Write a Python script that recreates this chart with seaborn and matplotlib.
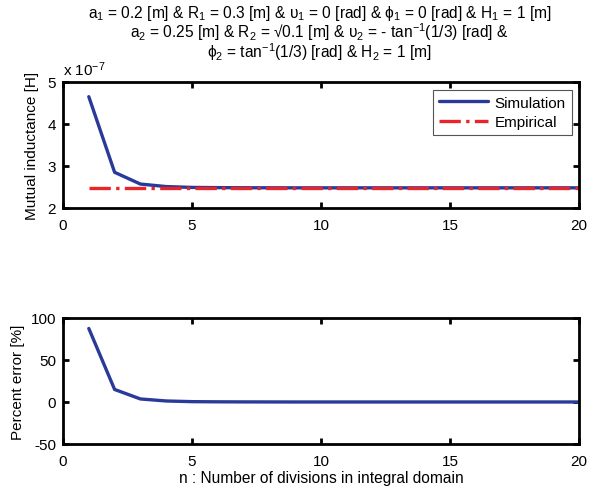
import numpy as np
import pandas as pd
import matplotlib
matplotlib.use("Agg")
import matplotlib.pyplot as plt
import seaborn as sns
from matplotlib.ticker import FuncFormatter

# ---- data ----
n_div = list(range(1, 21))
simulation = [4.65e-7, 2.85e-7, 2.57e-7, 2.51e-7, 2.49e-7, 2.485e-7, 2.482e-7, 2.481e-7,
              2.48e-7, 2.48e-7, 2.48e-7, 2.48e-7, 2.48e-7, 2.48e-7, 2.48e-7, 2.48e-7,
              2.48e-7, 2.48e-7, 2.48e-7, 2.48e-7]
empirical = [2.48e-7] * 20
percent_error = [87.5, 14.9, 3.6, 1.2, 0.4, 0.2, 0.1, 0.05, 0.0, 0.0, 0.0, 0.0, 0.0,
                 0.0, 0.0, 0.0, 0.0, 0.0, 0.0, 0.0]

title_lines = [
    r"a$_1$ = 0.2 [m] & R$_1$ = 0.3 [m] & $\upsilon_1$ = 0 [rad] & $\phi_1$ = 0 [rad] & H$_1$ = 1 [m]",
    r"a$_2$ = 0.25 [m] & R$_2$ = √0.1 [m] & $\upsilon_2$ = - tan$^{-1}$(1/3) [rad] &",
    r"$\phi_2$ = tan$^{-1}$(1/3) [rad] & H$_2$ = 1 [m]",
]

sns.set_style("ticks")
plt.rcParams['font.family'] = ['Liberation Sans', 'DejaVu Sans']
plt.rcParams['mathtext.fontset'] = 'custom'
plt.rcParams['mathtext.rm'] = 'Liberation Sans'
plt.rcParams['mathtext.it'] = 'Liberation Sans:italic'
plt.rcParams['mathtext.bf'] = 'Liberation Sans:bold'
plt.rcParams['mathtext.default'] = 'regular'
plt.rcParams['axes.unicode_minus'] = False
plt.rcParams['text.color'] = 'black'
plt.rcParams['axes.labelcolor'] = 'black'

BLUE = "#2a3a98"
RED = "#e8262a"

fig = plt.figure(figsize=(5.92, 4.89), dpi=100)
ax1 = fig.add_axes([0.1064, 0.5726, 0.872, 0.2577])
ax2 = fig.add_axes([0.1064, 0.0900, 0.872, 0.2577])

df1 = pd.DataFrame({"n": n_div, "Simulation": simulation, "Empirical": empirical})
sns.lineplot(data=df1, x="n", y="Simulation", ax=ax1, color=BLUE, lw=2.4, label="Simulation")
sns.lineplot(data=df1, x="n", y="Empirical", ax=ax1, color=RED, lw=2.4, linestyle="-.", label="Empirical")

df2 = pd.DataFrame({"n": n_div, "err": percent_error})
sns.lineplot(data=df2, x="n", y="err", ax=ax2, color=BLUE, lw=2.4)

ax1.set_xlim(0, 20)
ax1.set_ylim(2e-7, 5e-7)
ax1.set_yticks([2e-7, 3e-7, 4e-7, 5e-7])
ax1.yaxis.set_major_formatter(FuncFormatter(lambda v, p: f"{v/1e-7:.0f}"))
ax1.set_xticks([0, 5, 10, 15, 20])
ax1.set_xlabel("")
ax1.set_ylabel("Mutual inductance [H]", fontsize=11, labelpad=6)
ax1.text(0.0, 1.03, r"x 10$^{-7}$", transform=ax1.transAxes, fontsize=11, ha="left", va="bottom")

ax2.set_xlim(0, 20)
ax2.set_ylim(-50, 100)
ax2.set_yticks([-50, 0, 50, 100])
ax2.set_xticks([0, 5, 10, 15, 20])
ax2.set_xlabel("n : Number of divisions in integral domain", fontsize=11.2, labelpad=2)
ax2.set_ylabel("Percent error [%]", fontsize=11, labelpad=4)

for ax in (ax1, ax2):
    for s in ax.spines.values():
        s.set_visible(True)
        s.set_linewidth(2.0)
        s.set_color("black")
    ax.tick_params(direction="in", top=True, right=True, length=4, width=2,
                   labelsize=11, colors="black")
    ax.tick_params(axis="x", pad=7)
    ax.tick_params(axis="y", pad=5)

leg = ax1.legend(loc="upper right", fontsize=11, frameon=True, fancybox=False,
                 edgecolor="#555555", framealpha=1, handlelength=3.2,
                 borderaxespad=0.5, labelspacing=0.35, borderpad=0.4, handletextpad=0.4)
leg.get_frame().set_linewidth(0.8)

for i, line in enumerate(title_lines):
    fig.text(0.540, 1 - (18 + 20 * i) / 489, line, ha="center", va="baseline", fontsize=11.2)

fig.savefig("out.png", dpi=100)
